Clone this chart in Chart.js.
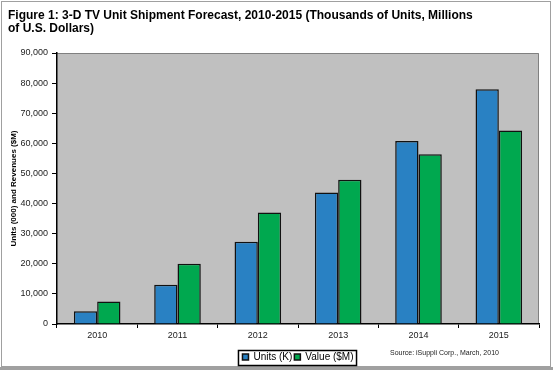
<!DOCTYPE html>
<html>
<head>
<meta charset="utf-8">
<script src="https://cdn.jsdelivr.net/npm/chart.js@4.4.0/dist/chart.umd.min.js"></script>
<style>
  html, body { margin: 0; padding: 0; background: #fff; }
  #wrap { width: 553px; height: 372px; }
</style>
</head>
<body>
<div id="wrap"><canvas id="myChart" width="553" height="372"></canvas></div>
<script>
// Chart data
var years = ['2010', '2011', '2012', '2013', '2014', '2015'];
var units = [4200, 13000, 27300, 43700, 60800, 78000];
var value = [7500, 20000, 37000, 47900, 56400, 64300];
var titleLines = ['Figure 1: 3-D TV Unit Shipment Forecast, 2010-2015 (Thousands of Units, Millions', 'of U.S. Dollars)'];
var sourceText = 'Source: iSuppli Corp., March, 2010';

// frame, title, plot background, legend box and source note
var decorations = {
    id: 'decorations',
    beforeDraw: function (chart) {
        var c = chart.ctx, a = chart.chartArea;
        c.save();
        c.fillStyle = '#c0c0c0';
        c.fillRect(a.left, a.top, a.right - a.left, a.bottom - a.top);
        c.strokeStyle = '#808080';
        c.lineWidth = 1;
        c.beginPath();
        c.moveTo(a.left, a.top + 0.5);
        c.lineTo(a.right - 0.5, a.top + 0.5);
        c.lineTo(a.right - 0.5, a.bottom);
        c.stroke();
        c.restore();
    },
    afterDraw: function (chart) {
        var c = chart.ctx;
        c.save();
        // outer frame
        c.strokeStyle = '#a0a0a0';
        c.lineWidth = 1;
        c.strokeRect(1.5, 1.5, 549, 365);
        c.fillStyle = '#a0a0a0';
        c.fillRect(0, 367, 553, 3);
        // title
        c.fillStyle = '#000';
        c.font = 'bold 12px Arial, "Liberation Sans", sans-serif';
        c.textBaseline = 'middle';
        c.textAlign = 'left';
        c.fillText(titleLines[0], 8, 16);
        c.fillText(titleLines[1], 8, 29);
        // source
        c.font = '7px Arial, "Liberation Sans", sans-serif';
        c.fillStyle = '#222';
        c.fillText(sourceText, 390, 353);
        // legend border
        var hb = chart.legend.legendHitBoxes;
        if (hb && hb.length) {
            var l = hb[0].left - 4, r = hb[hb.length - 1].left + hb[hb.length - 1].width + 3;
            c.strokeStyle = '#000';
            c.lineWidth = 1.5;
            c.strokeRect(l, 350.5, r - l, 15);
        }
        c.restore();
    }
};

var ctx = document.getElementById('myChart').getContext('2d');
var myChart = new Chart(ctx, {
    type: 'bar',
    data: {
        labels: years,
        datasets: [{
            label: 'Units (K)',
            data: units,
            backgroundColor: '#2981c3',
            borderColor: '#111',
            borderWidth: 1.5
        }, {
            label: 'Value ($M)',
            data: value,
            backgroundColor: '#00a84f',
            borderColor: '#111',
            borderWidth: 1.5
        }]
    },
    options: {
        responsive: false,
        animation: false,
        events: [],
        layout: { padding: { top: 53, left: 0, right: 14, bottom: 0 } },
        datasets: { bar: { categoryPercentage: 0.58, barPercentage: 1 } },
        plugins: {
            title: { display: false },
            tooltip: { enabled: false },
            legend: {
                position: 'bottom',
                fullSize: false,
                labels: {
                    boxWidth: 6,
                    boxHeight: 6,
                    padding: 2,
                    color: '#000',
                    font: { family: 'Arial, "Liberation Sans", sans-serif', size: 10 }
                }
            }
        },
        scales: {
            x: {
                grid: { display: true, drawOnChartArea: false, offset: true, color: '#000', tickLength: 4, tickColor: '#000' },
                border: { color: '#000', width: 1.5 },
                ticks: { color: '#222', padding: 2, font: { family: 'Arial, "Liberation Sans", sans-serif', size: 9 } },
                afterFit: function (s) { s.height = 26; }
            },
            y: {
                min: 0,
                max: 90000,
                ticks: {
                    stepSize: 10000,
                    color: '#222',
                    padding: 4,
                    font: { family: 'Arial, "Liberation Sans", sans-serif', size: 9 },
                    callback: function (v) { return v.toLocaleString('en-US'); }
                },
                grid: { display: true, drawOnChartArea: false, color: '#000', tickLength: 5, tickColor: '#000' },
                border: { color: '#000', width: 1.5 },
                title: {
                    display: true,
                    text: 'Units (000) and Revenues ($M)',
                    color: '#000',
                    padding: { top: 9, bottom: 2 },
                    font: { family: 'Arial, "Liberation Sans", sans-serif', size: 8, weight: 'bold' }
                },
                afterFit: function (s) { s.width = 57; }
            }
        }
    },
    plugins: [decorations]
});
</script>
</body>
</html>
